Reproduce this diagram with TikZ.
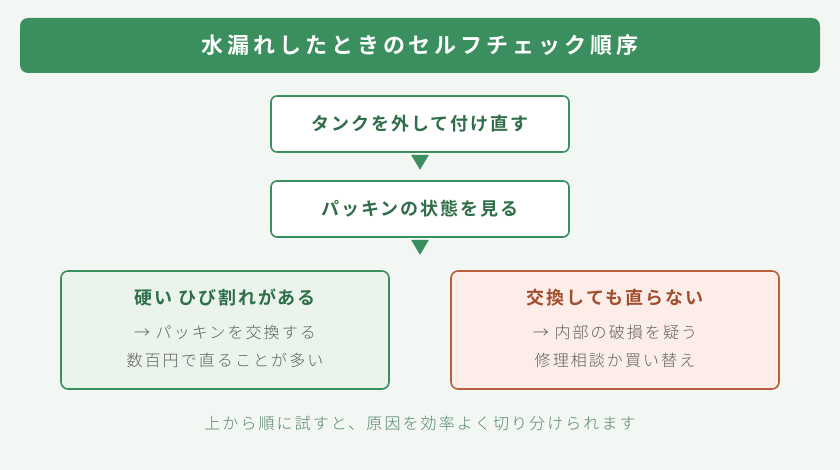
\documentclass[tikz,border=0pt]{standalone}
\usepackage{fontspec}
\setmainfont{Noto Sans CJK JP}
\newfontfamily\jpbold{Noto Sans CJK JP Bold}
\newfontfamily\jpboldwide[LetterSpace=18]{Noto Sans CJK JP Bold}
\newfontfamily\jpboldspaced[LetterSpace=11]{Noto Sans CJK JP Bold}
\newfontfamily\jpspaced[LetterSpace=13]{Noto Sans CJK JP Light}
\usetikzlibrary{positioning}
\definecolor{bgpale}{HTML}{F3F7F3}
\definecolor{leafgreen}{HTML}{3B8E5E}
\definecolor{darkgreen}{HTML}{2F6E48}
\definecolor{palegreen}{HTML}{EAF4EC}
\definecolor{palered}{HTML}{FCEDE9}
\definecolor{rust}{HTML}{B5603A}
\definecolor{darkrust}{HTML}{A04E2E}
\definecolor{bodygray}{HTML}{606060}
\definecolor{notegreen}{HTML}{55866A}

\begin{document}
\begin{tikzpicture}[x=1pt, y=1pt,
    banner/.style={fill=leafgreen, rounded corners=8pt, minimum width=800pt, minimum height=55pt,
      text=white, font=\jpboldwide\fontsize{22}{26}\selectfont},
    stepbox/.style={draw=leafgreen, line width=1.6pt, fill=white, rounded corners=6pt,
      minimum width=298pt, minimum height=56pt, text=darkgreen, font=\jpboldspaced\fontsize{18}{22}\selectfont},
    casebox/.style={line width=1.6pt, rounded corners=7pt, minimum width=328pt, minimum height=118pt},
    casehead/.style={font=\jpboldspaced\fontsize{18}{22}\selectfont},
    casebody/.style={text=bodygray, font=\jpspaced\fontsize{16}{20}\selectfont},
    down/.style={fill=leafgreen}]
  \useasboundingbox (0,0) rectangle (840,470);
  \fill[bgpale] (0,0) rectangle (840,470);
  % A downward triangle under a node: #1 = name of the node above.
  \newcommand{\downtip}[1]{%
    \fill[down] ([xshift=-9pt,yshift=-2pt]#1.south) -- ([xshift=9pt,yshift=-2pt]#1.south)
      -- ([yshift=-17pt]#1.south) -- cycle;}

  \node[banner] (title) at (420,424.5) {水漏れしたときのセルフチェック順序};

  \node[stepbox] (tank) at (420,346) {タンクを外して付け直す};
  \node[stepbox] (packing) at (420,261) {パッキンの状態を見る};
  \downtip{tank}
  \downtip{packing}

  % the two outcomes
  \node[casebox, draw=leafgreen, fill=palegreen] (hard) at (225,140) {};
  \node[casebox, draw=rust, fill=palered] (still) at (615,140) {};
  \node[casehead, text=darkgreen] (hardhead) at ([yshift=-27pt]hard.north) {硬い ひび割れがある};
  \node[casebody] (hardone) at ([yshift=-62pt]hard.north) {→ パッキンを交換する};
  \node[casebody] (hardtwo) at ([yshift=-90pt]hard.north) {数百円で直ることが多い};
  \node[casehead, text=darkrust] (stillhead) at ([yshift=-27pt]still.north) {交換しても直らない};
  \node[casebody] (stillone) at ([yshift=-62pt]still.north) {→ 内部の破損を疑う};
  \node[casebody] (stilltwo) at ([yshift=-90pt]still.north) {修理相談か買い替え};

  \node[text=notegreen, font=\jpspaced\fontsize{16}{20}\selectfont] (note) at (420,47)
    {上から順に試すと、原因を効率よく切り分けられます};
\end{tikzpicture}
\end{document}
